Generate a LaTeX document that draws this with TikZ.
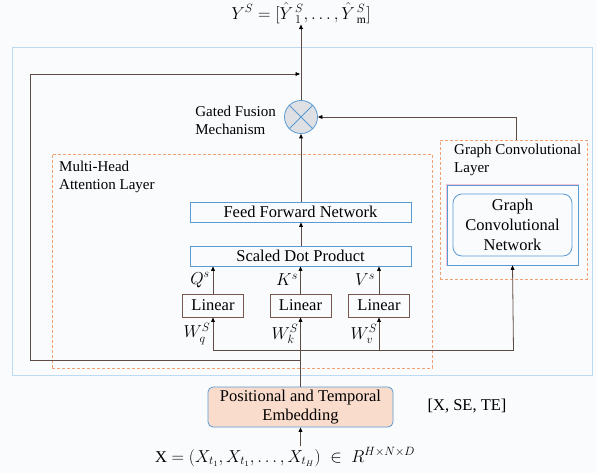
\documentclass[tikz,border=0pt]{standalone}
\usepackage{fontspec}
\setmainfont{Liberation Serif}
\usetikzlibrary{arrows.meta}

\definecolor{bgcol}{RGB}{250,251,253}
\definecolor{framecol}{RGB}{190,218,240}
\definecolor{dashcol}{RGB}{240,160,115}
\definecolor{linkcol}{RGB}{95,75,70}
\definecolor{boxblue}{RGB}{91,155,213}
\definecolor{boxpink}{RGB}{244,196,210}
\definecolor{linbrown}{RGB}{120,88,78}
\definecolor{peach}{RGB}{249,220,203}
\definecolor{circfill}{RGB}{222,224,228}

\tikzset{
  bigtxt/.style={font=\fontsize{16.5}{19.5}\selectfont},
  smalltxt/.style={font=\fontsize{15}{18}\selectfont},
  arr/.style={draw=linkcol, line width=0.8pt,
    -{Triangle[length=4.5pt,width=3.8pt,color=black]}},
  link/.style={draw=linkcol, line width=0.8pt},
  dashbox/.style={draw=dashcol, line width=0.9pt, dash pattern=on 3pt off 2pt,
    rectangle, inner sep=0pt},
  bluebox/.style={rectangle, draw=boxblue, line width=0.8pt, inner sep=0pt,
    bigtxt},
  linbox/.style={rectangle, draw=linbrown, line width=0.9pt, inner sep=0pt,
    minimum width=61pt, minimum height=23pt, bigtxt},
  pinkrim/.style={draw=boxpink, line width=0.5pt},
}

\begin{document}
\begin{tikzpicture}[x=1pt,y=-1pt]
  % canvas
  \fill[bgcol] (0,0) rectangle (597,473);
  \useasboundingbox (0,0) rectangle (597,473);

  % light blue frame around the whole model
  \draw[framecol, line width=0.8pt] (12.7,47.7) rectangle (592,375);

  % dashed layer frames
  \node[dashbox, minimum width=380pt, minimum height=214pt] (mha) at (242,261) {};
  \node[dashbox, minimum width=147pt, minimum height=139pt] (gcl) at (513.5,209.5) {};

  % layer labels
  \node[smalltxt, anchor=north west, align=left, inner sep=0pt] (mhalbl) at (59,161)
    {Multi-Head\\Attention Layer};
  \node[smalltxt, anchor=north west, align=left, inner sep=0pt] (gcllbl) at (454,143.5)
    {Graph Convolutional\\Layer};

  % attention blocks
  \node[bluebox, minimum width=221pt, minimum height=20pt] (ffn) at (300.5,212)
    {Feed Forward Network};
  \node[bluebox, minimum width=221pt, minimum height=20pt] (sdp) at (300.5,256)
    {Scaled Dot Product};

  \node[linbox] (linq) at (213,305.5) {Linear};
  \node[linbox] (link) at (300.5,305.5) {Linear};
  \node[linbox] (linv) at (379,305.5) {Linear};

  % graph convolution blocks: thin pink rim under the blue outline
  \draw[pinkrim] (446.3,184.3) rectangle (578.7,265.7);
  \node[rectangle, draw=boxblue, line width=0.7pt, minimum width=131pt,
    minimum height=80pt, inner sep=0pt] (gcnout) at (512.5,225) {};
  \node[rectangle, rounded corners=9pt, draw=boxblue, line width=0.8pt,
    minimum width=119pt, minimum height=62pt, inner sep=0pt, align=center,
    font=\fontsize{16.5}{20}\selectfont] (gcn) at (512.5,225)
    {Graph\\Convolutional\\Network};

  % fusion gate
  \node[circle, draw=boxblue, fill=circfill, line width=0.8pt,
    minimum size=33pt, inner sep=0pt] (gate) at (301,117) {};
  \draw[boxblue, line width=0.8pt] (gate.north west) -- (gate.south east);
  \draw[boxblue, line width=0.8pt] (gate.north east) -- (gate.south west);
  \node[smalltxt, anchor=east, align=left, inner sep=0pt] (gatelbl) at (276,120.5)
    {Gated Fusion\\Mechanism};

  % embedding
  \node[rectangle, rounded corners=5pt, draw=boxblue, fill=peach, line width=0.8pt,
    minimum width=185pt, minimum height=40pt, inner sep=0pt, align=center,
    font=\fontsize{16.5}{19}\selectfont] (pos) at (300.5,407)
    {Positional and Temporal\\Embedding};
  \node[bigtxt, inner sep=0pt] (feat) at (467,406.5) {[X, SE, TE]};

  % input and output formulas
  \node[bigtxt, inner sep=1pt] (inp) at (285,457)
    {$\mathrm{X} = (X_{t_1}, X_{t_1}, \ldots, X_{t_H}) \;\in\; R^{H\times N\times D}$};
  \node[bigtxt, inner sep=1pt] (outp) at (301,13)
    {$Y^S = [\hat{Y}\mkern2mu{}_1^S, \ldots, \hat{Y}\mkern2mu{}_{\mathrm{m}}^S]$};

  % q, k, v labels
  \node[bigtxt, inner sep=0pt] (ql) at (200,280) {$Q^s$};
  \node[bigtxt, inner sep=0pt] (kl) at (287,280) {$K^s$};
  \node[bigtxt, inner sep=0pt] (vl) at (365,280) {$V^s$};
  \node[bigtxt, inner sep=0pt] (wq) at (197,334) {$W_q^S$};
  \node[bigtxt, inner sep=0pt] (wk) at (285,334) {$W_k^S$};
  \node[bigtxt, inner sep=0pt] (wv) at (364,334) {$W_v^S$};

  % junction points of the routing lines
  \coordinate (splq) at (213,350.7);
  \coordinate (splg) at (513.5,350.7);
  \coordinate (fba) at (300.5,360.7);
  \coordinate (fbb) at (30,360.7);
  \coordinate (fbc) at (30,74);
  \coordinate (fbd) at (300,74);

  % connectors
  \draw[arr] (inp.north -| pos.south) -- (pos.south);
  \draw[arr] (pos.north) -- (link.south);
  \draw[link] (splq) -- (splg);
  \draw[arr] (splq) -- (linq.south);
  \draw[arr] (linv.south |- splq) -- (linv.south);
  \draw[arr] (splg) -- (gcnout.south);
  \draw[arr] (fba) -- (fbb) -- (fbc) -- (fbd);

  \draw[arr] (linq.north) -- (linq.north |- sdp.south);
  \draw[arr] (link.north) -- (link.north |- sdp.south);
  \draw[arr] (linv.north) -- (linv.north |- sdp.south);
  \draw[arr] (sdp.north -| gate.south) -- (ffn.south -| gate.south);
  \draw[arr] (ffn.north -| gate.south) -- (gate.south);
  \draw[arr] (gate.north) -- (outp.south -| gate.north);
  \draw[arr] ([xshift=3pt]gcl.north) |- (gate.east);
\end{tikzpicture}
\end{document}
